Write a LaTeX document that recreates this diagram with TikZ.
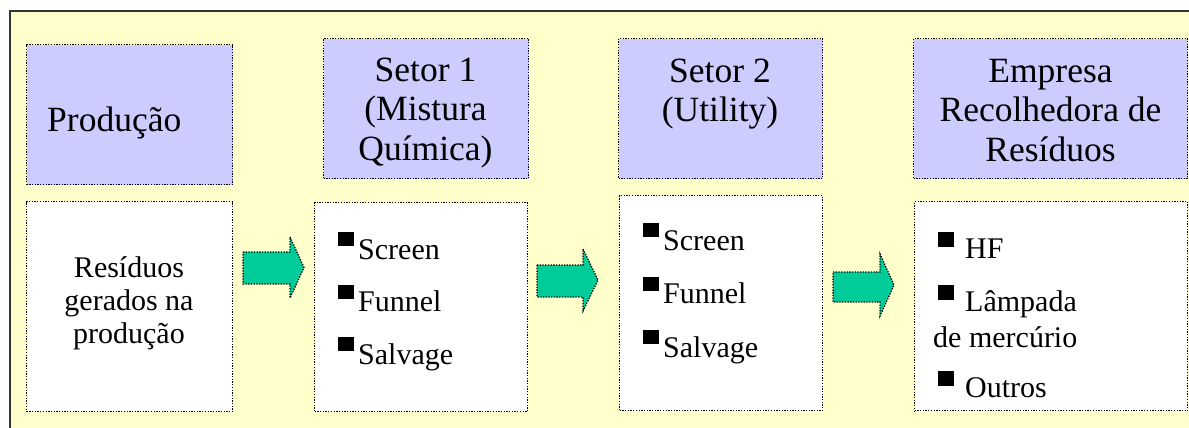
\documentclass[tikz,border=0pt]{standalone}
\usepackage{fontspec}
\setmainfont{Liberation Serif}
\usepackage{tikz}
\definecolor{fundo}{HTML}{FFFFCC}
\definecolor{lilas}{HTML}{CCCCFF}
\definecolor{verde}{HTML}{00CC99}
\tikzset{
  pontos/.style={draw=black, line width=1.3pt, dash pattern=on 1.3pt off 1.4pt},
  cabeca/.style={pontos, fill=lilas, anchor=north west},
  caixa/.style={pontos, fill=white, anchor=north west},
  titulo/.style={font=\fontsize{35.5pt}{39.5pt}\selectfont, align=center, anchor=base, inner sep=0pt},
  lista/.style={font=\fontsize{30pt}{52.5pt}\selectfont, align=left, anchor=base west, inner sep=0pt}
}
\newcommand{\marca}{\rule[13pt]{16pt}{14pt}\hspace{4pt}}
\newcommand{\marcab}{\hspace*{5pt}\rule[11pt]{16pt}{15pt}\hspace{11pt}}

\begin{document}
\begin{tikzpicture}[x=1pt, y=-1pt]
    \useasboundingbox (0,0) rectangle (1189,428);
    \fill [white] (0,0) rectangle (1189,428);
    \fill [fundo] (10,11) rectangle (1189,428);
    \draw [line width=1.5pt, black!80] (10,428) -- (10,11) -- (1189,11);

    % caixas de cima
    \node [cabeca, minimum width=206pt, minimum height=140pt] (producao) at (26,44) {};
    \node [cabeca, minimum width=205pt, minimum height=140pt] (setor1) at (323,38) {};
    \node [cabeca, minimum width=204pt, minimum height=140pt] (setor2) at (618,38) {};
    \node [cabeca, minimum width=274pt, minimum height=140pt] (empresa) at (913,38) {};

    % caixas de baixo
    \node [caixa, minimum width=206pt, minimum height=210pt] (residuos) at (26,201) {};
    \node [caixa, minimum width=213pt, minimum height=209pt] (lista1) at (314,202) {};
    \node [caixa, minimum width=203pt, minimum height=215pt] (lista2) at (619,195) {};
    \node [caixa, minimum width=273pt, minimum height=209pt] (lista3) at (914,201) {};

    % textos (base = ultima linha)
    \node [titulo, anchor=base west] (tproducao) at (47,131) {Produção};
    \node [titulo] (tsetor1) at (425.5,160) {Setor 1\\(Mistura\\Química)};
    \node [titulo] (tsetor2) at (720,121.5) {Setor 2\\(Utility)};
    \node [titulo] (tempresa) at (1050.5,161) {Empresa\\Recolhedora de\\Resíduos};

    \node [font=\fontsize{30pt}{33pt}\selectfont, align=center, anchor=base, inner sep=0pt] (tresiduos) at (129,343) {Resíduos\\gerados na\\produção};
    \node [lista] (tlista1) at (338,364) {\marca Screen\\\marca Funnel\\\marca Salvage};
    \node [lista, font=\fontsize{30pt}{53.5pt}\selectfont] (tlista2) at (643,357) {\marca Screen\\\marca Funnel\\\marca Salvage};
    \node [lista, font=\fontsize{30pt}{36pt}\selectfont] (tlista3) at (933,397) {\marcab HF\\[17pt]\marcab Lâmpada\\de mercúrio\\[14pt]\marcab Outros};

    % setas
    \draw [pontos, fill=verde] (243,252) -- (290,252) -- (290,237) -- (304,267.5) -- (290,298) -- (290,284) -- (243,284) -- cycle;
    \draw [pontos, fill=verde] (537,265) -- (583,265) -- (583,249) -- (598,280) -- (583,311) -- (583,297) -- (537,297) -- cycle;
    \draw [pontos, fill=verde] (833,272) -- (880,272) -- (880,254) -- (894,285) -- (880,316) -- (880,302) -- (833,302) -- cycle;
\end{tikzpicture}
\end{document}
